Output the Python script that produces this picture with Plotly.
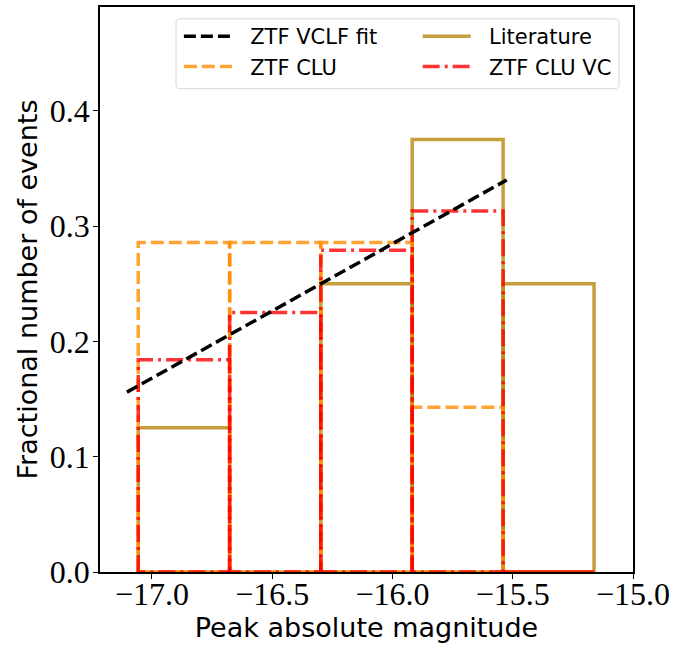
import plotly.graph_objects as go

# Histogram bin edges (peak absolute magnitude)
bin_edges = [-17.057, -16.677, -16.298, -15.918, -15.540, -15.162]

# Fractional number of events per bin
literature = [0.125, 0.0, 0.25, 0.375, 0.25]
ztf_clu = [0.2857, 0.2857, 0.2857, 0.1429, 0.0]
ztf_clu_vc = [0.184, 0.225, 0.279, 0.313, 0.0]

# ZTF VCLF fit line
fit_x = [-17.104, -15.525]
fit_y = [0.156, 0.340]

x_ticks = [-17.0, -16.5, -16.0, -15.5, -15.0]
y_ticks = [0.0, 0.1, 0.2, 0.3, 0.4]

PAD = "\u00a0\u00a0"


def outline(edges, heights):
    xs, ys = [], []
    for i, h in enumerate(heights):
        x0, x1 = edges[i], edges[i + 1]
        xs += [x0, x0, x1, x1, x0, None]
        ys += [0, h, h, 0, 0, None]
    return xs, ys


fig = go.Figure()

series = [
    ("Literature", literature, "rgba(184,134,11,0.8)", "solid", "legend2", 1),
    ("ZTF CLU", ztf_clu, "rgba(255,140,0,0.8)", "13px,5px", "legend", 2),
    ("ZTF CLU VC", ztf_clu_vc, "rgba(255,0,0,0.8)", "17px,5px,3px,5px", "legend2", 2),
]
for name, vals, color, dash, leg, rank in series:
    xs, ys = outline(bin_edges, vals)
    fig.add_trace(go.Scatter(
        x=xs, y=ys, mode="lines", name=PAD + name, legend=leg, legendrank=rank,
        line=dict(color=color, width=3.5, dash=dash),
        connectgaps=False, hoverinfo="skip",
    ))

fig.add_trace(go.Scatter(
    x=fit_x, y=fit_y, mode="lines", name=PAD + "ZTF VCLF fit", legend="legend", legendrank=1,
    line=dict(color="black", width=3.5, dash="12px,5px"),
))

tick_font = dict(family="Liberation Serif, DejaVu Serif, serif", size=32, color="black")
title_font = dict(family="DejaVu Sans, sans-serif", size=27, color="black")
leg_font = dict(family="DejaVu Sans, sans-serif", size=21, color="black")

# legend frame (rounded box) in paper coordinates
bx0, bx1, by0, by1 = 0.1426, 0.9737, 0.8554, 0.979
rx, ry = 0.008, 0.0075
frame = (f"M {bx0+rx},{by0} L {bx1-rx},{by0} Q {bx1},{by0} {bx1},{by0+ry} "
         f"L {bx1},{by1-ry} Q {bx1},{by1} {bx1-rx},{by1} "
         f"L {bx0+rx},{by1} Q {bx0},{by1} {bx0},{by1-ry} "
         f"L {bx0},{by0+ry} Q {bx0},{by0} {bx0+rx},{by0} Z")

fig.update_layout(
    width=699, height=648,
    margin=dict(l=100, r=66, t=5, b=76),
    paper_bgcolor="white", plot_bgcolor="white",
    showlegend=True,
    shapes=[dict(type="path", xref="paper", yref="paper", path=frame,
                 line=dict(color="#d6d6d6", width=1),
                 fillcolor="rgba(255,255,255,0.8)", layer="above")],
    legend=dict(
        x=0.148, y=0.984, xanchor="left", yanchor="top",
        itemwidth=48, font=leg_font, bgcolor="rgba(0,0,0,0)", borderwidth=0,
        traceorder="normal",
    ),
    legend2=dict(
        x=0.596, y=0.984, xanchor="left", yanchor="top",
        itemwidth=48, font=leg_font, bgcolor="rgba(0,0,0,0)", borderwidth=0,
        traceorder="normal",
    ),
    xaxis=dict(
        range=[-17.216, -15.0], tickvals=x_ticks,
        ticktext=["\u2212%.1f" % abs(v) for v in x_ticks],
        ticks="outside", ticklen=5, tickwidth=1, tickcolor="black",
        ticklabelstandoff=-12,
        showline=True, linecolor="black", linewidth=1.5, mirror=True,
        showgrid=False, zeroline=False, tickfont=tick_font,
        title=dict(text="Peak absolute magnitude", font=title_font, standoff=0),
    ),
    yaxis=dict(
        range=[0, 0.49], tickvals=y_ticks,
        ticktext=["%.1f" % v for v in y_ticks],
        ticks="outside", ticklen=5, tickwidth=1, tickcolor="black",
        ticklabelstandoff=-3,
        showline=True, linecolor="black", linewidth=1.5, mirror=True,
        showgrid=False, zeroline=False, tickfont=tick_font,
        title=dict(text="Fractional number of events", font=title_font, standoff=4),
    ),
)

fig.write_html("out.html")
